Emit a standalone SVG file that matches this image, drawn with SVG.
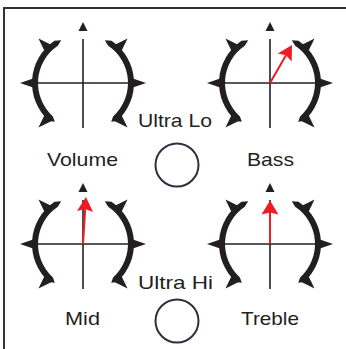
<svg xmlns="http://www.w3.org/2000/svg" xmlns:xlink="http://www.w3.org/1999/xlink" width="346" height="349" viewBox="0 0 346 349">
  <style>
    .ink { fill: #231f20; }
    .cross { stroke: #231f20; stroke-width: 1.6; fill: none; }
    .frame { stroke: #333333; stroke-width: 2; fill: none; }
    .label { font-family: "Liberation Sans", Arial, sans-serif; font-size: 18.5px; fill: #231f20; }
    .jack { fill: #ffffff; stroke: #2d2f3e; stroke-width: 2; }
    .needle-shaft { stroke: #ed1c24; stroke-width: 2; fill: none; }
    .needle-head { fill: #ed1c24; }
  </style>
  <defs>
    <g id="half">
      <path class="ink" d="M -21.8 -42.8 L -28.5 -42.3 A 51 51 0 0 0 -34.1 37.9 L -28.2 38.8 L -30.1 33.4 A 45 45 0 0 1 -25.2 -37.3 Z"/>
      <polygon class="ink" points="-63,0 -47,-5.5 -47,5.5"/>
      <polygon class="ink" points="-63,0 -47,-5.5 -47,5.5" transform="rotate(45)"/>
      <polygon class="ink" points="-63,0 -47,-5.5 -47,5.5" transform="rotate(-45)"/>
    </g>
    <g id="knob">
      <use href="#half" xlink:href="#half"/>
      <use href="#half" xlink:href="#half" transform="scale(-1,1)"/>
      <line class="cross" x1="-45" y1="0" x2="45" y2="0"/>
      <line class="cross" x1="0" y1="-44" x2="0" y2="45"/>
      <polygon class="ink" points="0,-61 -4.5,-52 4.5,-52"/>
    </g>
  </defs>

  <g id="frame">
    <line class="frame" x1="3" y1="8" x2="346" y2="8"/>
    <line class="frame" x1="4" y1="7" x2="4" y2="349"/>
  </g>

  <g id="volume">
    <use href="#knob" xlink:href="#knob" transform="translate(83,83)"/>
    <text class="label" x="47" y="166" textLength="71" lengthAdjust="spacingAndGlyphs">Volume</text>
  </g>

  <g id="bass">
    <use href="#knob" xlink:href="#knob" transform="translate(270,83)"/>
    <g transform="translate(270,83) rotate(30)">
      <line class="needle-shaft" x1="0" y1="0" x2="0" y2="-32"/>
      <polygon class="needle-head" points="0,-44 -8,-29.5 0,-32 8,-29.5"/>
    </g>
    <text class="label" x="247" y="165.5" textLength="47" lengthAdjust="spacingAndGlyphs">Bass</text>
  </g>

  <g id="ultra-lo">
    <text class="label" x="138" y="127" textLength="74" lengthAdjust="spacingAndGlyphs">Ultra Lo</text>
    <circle class="jack" cx="177" cy="165" r="21.5"/>
  </g>

  <g id="mid">
    <use href="#knob" xlink:href="#knob" transform="translate(83,244)"/>
    <g transform="translate(83,244) rotate(3.6)">
      <line class="needle-shaft" x1="0" y1="0" x2="0" y2="-35"/>
      <polygon class="needle-head" points="0,-47 -8,-32.5 0,-35 8,-32.5"/>
    </g>
    <text class="label" x="65" y="324.5" textLength="35" lengthAdjust="spacingAndGlyphs">Mid</text>
  </g>

  <g id="treble">
    <use href="#knob" xlink:href="#knob" transform="translate(270,244)"/>
    <g transform="translate(270,244)">
      <line class="needle-shaft" x1="0" y1="0" x2="0" y2="-31"/>
      <polygon class="needle-head" points="0,-43.5 -8.5,-29.5 0,-31.5 8.5,-29.5"/>
    </g>
    <text class="label" x="241" y="325" textLength="58" lengthAdjust="spacingAndGlyphs">Treble</text>
  </g>

  <g id="ultra-hi">
    <text class="label" x="138" y="288.5" textLength="75" lengthAdjust="spacingAndGlyphs">Ultra Hi</text>
    <circle class="jack" cx="177" cy="321" r="21.5"/>
  </g>

  <g id="connectors"/>
</svg>
